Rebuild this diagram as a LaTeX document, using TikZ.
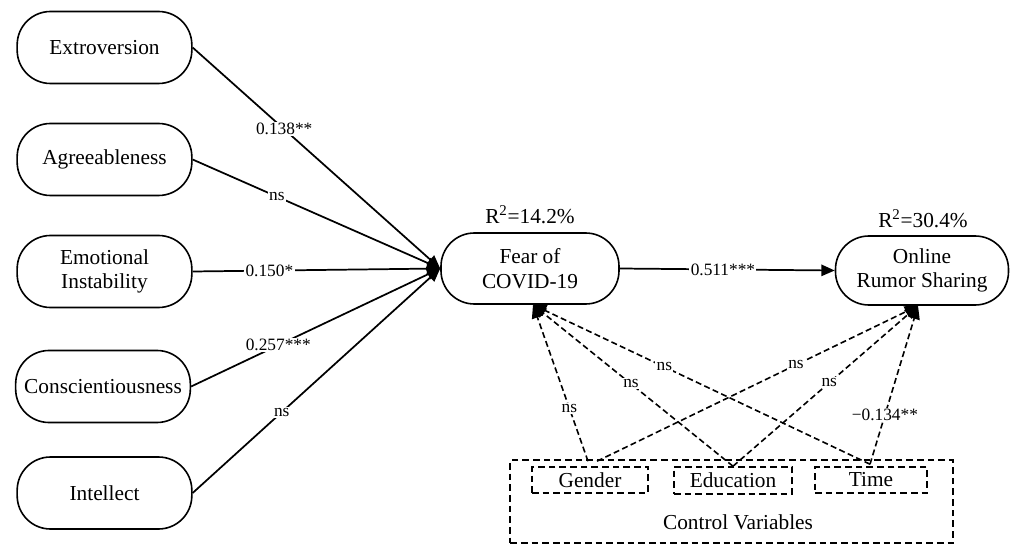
\documentclass[tikz,border=0pt]{standalone}
\usepackage{fontspec}
\setmainfont{Liberation Serif}
\usetikzlibrary{arrows.meta}
\begin{document}
\begin{tikzpicture}[x=0.75pt,y=-0.75pt,
 latent/.style={draw, line width=1.2pt, rounded corners=25pt, align=center, inner sep=0pt,
   font=\fontsize{16}{18.5}\selectfont},
 leftbox/.style={latent, minimum width=131pt, minimum height=54pt},
 lbl/.style={fill=white, inner sep=1pt, font=\fontsize{13}{15}\selectfont},
 txt/.style={inner sep=0pt, font=\fontsize{16}{18.5}\selectfont},
 solidpath/.style={line width=1.3pt, -{Triangle[length=10pt,width=8.5pt]}},
 ctrlpath/.style={line width=1.2pt, dash pattern=on 4.5pt off 2.5pt, -{Triangle[length=10pt,width=8.5pt]}},
 ctrlbox/.style={draw, line width=1.2pt, dash pattern=on 5pt off 3pt, inner sep=0pt,
   font=\fontsize{16}{18.5}\selectfont}]
\useasboundingbox (0,0) rectangle (1010,545);

% left constructs
\node[leftbox] (ext) at (104.5,47.5) {Extroversion};
\node[leftbox] (agr) at (104.5,159.5) {Agreeableness};
\node[leftbox] (emo) at (104.5,271.5) {Emotional\\Instability};
\node[leftbox] (con) at (103,386.5) {Conscientiousness};
\node[leftbox] (int) at (104.5,493) {Intellect};

% outcome constructs
\node[latent, minimum width=133.5pt, minimum height=53.25pt] (fear) at (530,268.5) {Fear of\\COVID-19};
\node[latent, minimum width=129.75pt, minimum height=51.75pt] (online) at (922,270.5) {Online\\Rumor Sharing};
\node[txt] (r1) at (530,215) {R\textsuperscript{2}=14.2\%};
\node[txt] (r2) at (923,219) {R\textsuperscript{2}=30.4\%};

% control variables
\node[ctrlbox, minimum width=332pt, minimum height=62pt] (ctrl) at (731.5,501.5) {};
\node[txt] (ctrltxt) at (738,522) {Control Variables};
\node[ctrlbox, minimum width=87pt, minimum height=19.5pt] (gender) at (590,480) {Gender};
\node[ctrlbox, minimum width=88.5pt, minimum height=20.25pt] (edu) at (733,480.5) {Education};
\node[ctrlbox, minimum width=84pt, minimum height=19.5pt] (time) at (871,480) {Time};

% structural paths
\draw[solidpath] (ext.east) -- node[lbl, pos=0.37] {0.138**} (fear.west);
\draw[solidpath] (agr.east) -- node[lbl, pos=0.34] {ns} (fear.west);
\draw[solidpath] (emo.east) -- node[lbl, pos=0.31] {0.150*} (fear.west);
\draw[solidpath] (con.east) -- node[lbl, pos=0.35] {0.257***} (fear.west);
\draw[solidpath] (int.east) -- node[lbl, pos=0.36] {ns} (fear.west);
\draw[solidpath] (fear.east) -- node[lbl, pos=0.48] {0.511***} (online.west);

% control paths
\draw[ctrlpath] ([shift={(-2,-5)}]gender.north) -- node[lbl, pos=0.34] {ns} ([shift={(3,0)}]fear.south);
\draw[ctrlpath] (edu.north) -- node[lbl, pos=0.51] {ns} ([shift={(3,0)}]fear.south);
\draw[ctrlpath] ([shift={(-1,-2)}]time.north) -- node[lbl, pos=0.61] {ns} ([shift={(3,0)}]fear.south);
\draw[ctrlpath] ([shift={(7,-5)}]gender.north) -- node[lbl, pos=0.62] {ns} ([shift={(-4,0)}]online.south);
\draw[ctrlpath] (edu.north) -- node[lbl, pos=0.52] {ns} ([shift={(-4,0)}]online.south);
\draw[ctrlpath] ([shift={(-1,-2)}]time.north) -- node[lbl, pos=0.31] {−0.134**} ([shift={(-4,0)}]online.south);
\end{tikzpicture}
\end{document}
